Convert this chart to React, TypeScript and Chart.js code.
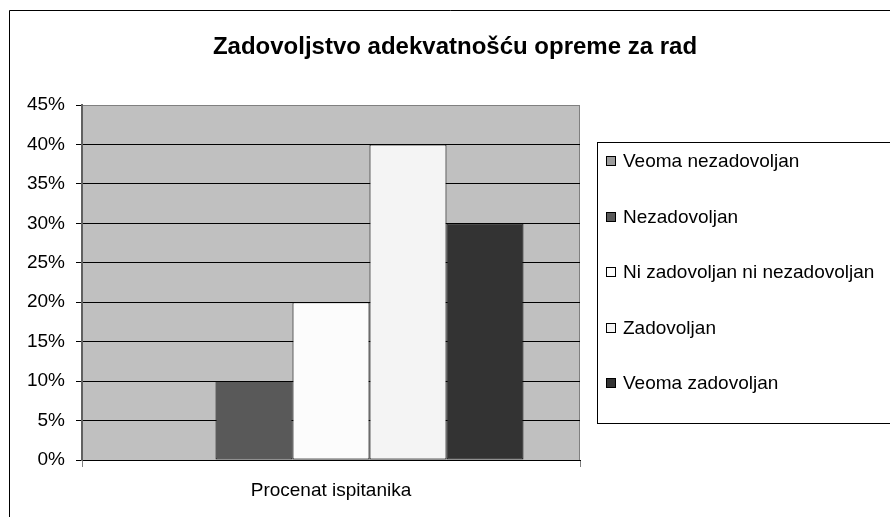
import React, { useEffect, useRef } from "react";
import { Chart, registerables } from "chart.js";

Chart.register(...registerables);

const TITLE = "Zadovoljstvo adekvatnošću opreme za rad";
const CATEGORIES = ["Procenat ispitanika"];
const SERIES_LABELS = [
  "Veoma nezadovoljan",
  "Nezadovoljan",
  "Ni zadovoljan ni nezadovoljan",
  "Zadovoljan",
  "Veoma zadovoljan",
];
const SERIES_VALUES = [0, 0.1, 0.2, 0.4, 0.3];
const SERIES_COLORS = ["#9C9C9C", "#595959", "#FCFCFC", "#F4F4F4", "#333333"];
const Y_MAX = 0.45;
const Y_STEP = 0.05;

const FONT = '"Liberation Sans", Arial, sans-serif';

export default function App() {
  const ref = useRef<HTMLCanvasElement | null>(null);

  useEffect(() => {
    const canvas = ref.current;
    if (!canvas) return;

    const decor = {
      id: "decor",
      beforeDraw(chart: any) {
        const { ctx, chartArea: a } = chart;
        ctx.save();
        ctx.fillStyle = "#FFFFFF";
        ctx.fillRect(0, 0, chart.width, chart.height);
        // outer frame
        ctx.strokeStyle = "#000000";
        ctx.lineWidth = 1;
        ctx.beginPath();
        ctx.moveTo(9.5, chart.height + 5);
        ctx.lineTo(9.5, 10.5);
        ctx.lineTo(chart.width + 5, 10.5);
        ctx.stroke();
        // plot background
        ctx.fillStyle = "#C0C0C0";
        ctx.fillRect(a.left, a.top, a.right - a.left, a.bottom - a.top);
        ctx.strokeStyle = "#808080";
        ctx.strokeRect(a.left + 0.5, a.top + 0.5, a.right - a.left - 1, a.bottom - a.top);
        ctx.restore();
      },
      afterDraw(chart: any) {
        const { ctx } = chart;
        ctx.save();
        // title
        ctx.fillStyle = "#000000";
        ctx.font = `bold 24px ${FONT}`;
        ctx.textAlign = "center";
        ctx.textBaseline = "alphabetic";
        ctx.fillText(TITLE, 455, 54);
        // legend
        ctx.strokeStyle = "#000000";
        ctx.lineWidth = 1;
        ctx.strokeRect(597.5, 142.5, 400, 281);
        ctx.font = `19px ${FONT}`;
        ctx.textAlign = "left";
        ctx.textBaseline = "middle";
        chart.data.datasets.forEach((ds: any, i: number) => {
          const y = 161 + i * 55.5;
          ctx.fillStyle = ds.backgroundColor;
          ctx.fillRect(607, Math.round(y - 4), 8, 8);
          ctx.strokeStyle = "#000000";
          ctx.strokeRect(606.5, Math.round(y - 4) - 0.5, 9, 9);
          ctx.fillStyle = "#000000";
          ctx.fillText(ds.label, 623, y + 1);
        });
        ctx.restore();
      },
    };

    const chart = new Chart(canvas, {
      type: "bar",
      data: {
        labels: CATEGORIES,
        datasets: SERIES_LABELS.map((label, i) => ({
          label,
          data: [SERIES_VALUES[i]],
          backgroundColor: SERIES_COLORS[i],
          borderColor: "#000000",
          borderWidth: 1,
          borderSkipped: false,
          categoryPercentage: 0.773,
          barPercentage: 1,
        })),
      },
      options: {
        animation: false,
        responsive: false,
        devicePixelRatio: 1,
        layout: { padding: { left: 0, top: 105, right: 310, bottom: 0 } },
        plugins: {
          legend: { display: false },
          title: { display: false },
          tooltip: { enabled: false },
        },
        scales: {
          x: {
            offset: true,
            grid: {
              offset: true,
              drawOnChartArea: false,
              tickLength: 7,
              color: "#808080",
            },
            border: { display: true, color: "#000000", width: 1 },
            ticks: {
              padding: 12,
              color: "#000000",
              font: { family: FONT, size: 19 },
            },
            afterFit(scale: any) {
              scale.height = 57;
            },
          },
          y: {
            min: 0,
            max: Y_MAX,
            grid: {
              color: (c: any) => (c.index === 9 ? "#808080" : "#000000"),
              tickColor: "#000000",
              tickLength: 6,
              lineWidth: 1,
            },
            border: { display: true, color: "#606060", width: 2 },
            ticks: {
              stepSize: Y_STEP,
              padding: 11,
              color: "#000000",
              font: { family: FONT, size: 19 },
              callback: (v: any) => `${Math.round(Number(v) * 100)}%`,
            },
            afterFit(scale: any) {
              scale.width = 82;
            },
          },
        },
      },
      plugins: [decor],
    } as any);

    return () => chart.destroy();
  }, []);

  return (
    <canvas
      ref={ref}
      width={890}
      height={517}
      style={{ position: "absolute", left: 0, top: 0, width: 890, height: 517 }}
    />
  );
}
